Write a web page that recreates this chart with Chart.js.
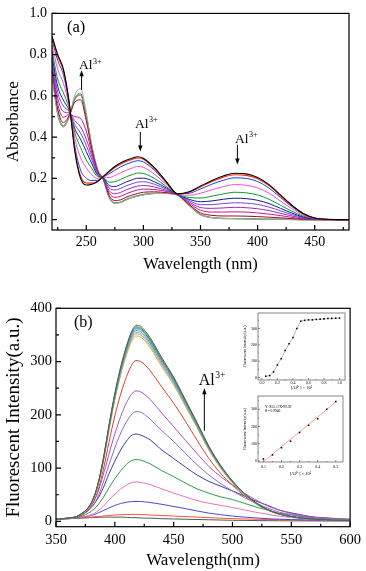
<!DOCTYPE html>
<html>
<head>
<meta charset="utf-8">
<script src="https://cdn.jsdelivr.net/npm/chart.js@4.4.0/dist/chart.umd.min.js"></script>
<style>
  html, body { margin: 0; padding: 0; background: #fff; }
  #wrap { position: relative; width: 366px; height: 571px; overflow: hidden; }
  canvas { position: absolute; }
</style>
</head>
<body>
<div id="wrap">
  <canvas id="chartA" width="366" height="285" style="left:0;top:0"></canvas>
  <canvas id="chartB" width="366" height="286" style="left:0;top:285px"></canvas>
  <canvas id="inset1" width="114" height="84" style="left:238px;top:309px"></canvas>
  <canvas id="inset2" width="114" height="86" style="left:238px;top:392px"></canvas>
</div>
<script>
// ---- panel (a): absorbance vs wavelength ----
const WAVE_A = [220,225,230,235,240,245,250,255,260,265,270,275,280,285,290,295,300,310,320,330,340,350,360,370,380,390,400,410,420,430,440,450,460,480];
const ABS_BLACK   = [.89,.80,.73,.57,.33,.20,.168,.172,.185,.21,.235,.258,.275,.288,.298,.305,.298,.25,.185,.125,.135,.163,.19,.212,.225,.222,.205,.17,.12,.07,.03,.008,.002,0];
const ABS_RED     = [.885,.792,.722,.568,.338,.212,.178,.177,.187,.21,.231,.253,.269,.282,.292,.299,.293,.246,.183,.125,.133,.159,.185,.206,.218,.215,.199,.165,.116,.068,.029,.008,.002,0];
const ABS_BLUE    = [.873,.772,.702,.563,.356,.241,.201,.19,.191,.208,.222,.24,.256,.269,.279,.286,.28,.238,.179,.125,.128,.149,.172,.191,.203,.2,.185,.153,.108,.063,.027,.007,.002,0];
const ABS_PINK    = [.847,.73,.661,.552,.394,.301,.251,.217,.199,.206,.204,.214,.227,.24,.25,.258,.254,.219,.171,.124,.119,.128,.145,.16,.17,.167,.154,.128,.09,.053,.022,.006,.002,0];
const ABS_GREEN   = [.819,.682,.614,.541,.42,.35,.29,.247,.208,.204,.182,.184,.195,.208,.218,.226,.224,.199,.161,.123,.108,.105,.114,.125,.133,.13,.12,.099,.07,.041,.017,.005,.001,0];
const ABS_NAVY    = [.796,.646,.579,.531,.44,.39,.33,.27,.215,.202,.166,.161,.17,.183,.193,.201,.201,.183,.154,.122,.099,.087,.091,.099,.104,.102,.094,.078,.055,.032,.013,.004,.001,0];
const ABS_VIOLET  = [.78,.618,.551,.524,.46,.42,.36,.288,.221,.2,.154,.144,.151,.164,.174,.182,.184,.171,.148,.122,.093,.073,.073,.078,.082,.08,.074,.061,.043,.025,.01,.003,.001,0];
const ABS_PURPLE  = [.762,.59,.524,.517,.48,.45,.39,.306,.226,.199,.141,.126,.132,.145,.155,.163,.166,.158,.142,.121,.086,.059,.055,.057,.06,.058,.053,.044,.031,.018,.007,.002,0,0];
const ABS_MAGENTA = [.745,.562,.496,.51,.50,.49,.43,.323,.232,.197,.129,.108,.113,.126,.136,.144,.148,.146,.137,.121,.08,.046,.037,.037,.038,.037,.033,.027,.02,.011,.004,.001,0,0];
const ABS_WINE    = [.73,.537,.471,.504,.57,.581,.48,.339,.237,.196,.117,.093,.096,.109,.119,.127,.133,.135,.131,.12,.074,.033,.021,.018,.018,.017,.015,.012,.009,.005,.002,0,0,0];
const ABS_GRAY    = [.71,.515,.45,.50,.605,.635,.52,.355,.24,.195,.11,.08,.083,.096,.106,.114,.12,.127,.127,.12,.069,.024,.01,.006,.005,.004,.003,.002,.002,.001,0,0,0,0];
const ABS_TEAL    = [.70,.51,.45,.50,.59,.612,.505,.35,.238,.194,.108,.08,.084,.097,.107,.115,.121,.127,.127,.119,.07,.025,.01,.006,.005,.004,.003,.002,.002,.001,0,0,0,0];
const ABS_OLIVE   = [.72,.52,.455,.50,.585,.605,.50,.35,.24,.195,.11,.082,.085,.098,.108,.116,.122,.128,.128,.12,.07,.025,.01,.006,.005,.004,.003,.002,.002,.001,0,0,0,0];
const A_X_TICKS = [250,300,350,400,450];
const A_Y_TICKS = [0,0.2,0.4,0.6,0.8,1.0];

// ---- panel (b): fluorescence vs wavelength ----
const WAVE_B = [350,360,370,380,385,390,395,400,405,410,414,418,422,426,430,440,450,460,470,480,490,500,510,520,530,540,550,560,570,580,590,600];
const FL_368 = [4,6,12,35,65,115,180,240,290,330,355,368,366,357,345,307,271,228,185,141,105,76,53,35,22,14,9,6,4,3,2,2];
const FL_365 = [4,5.8,12,34.7,64.6,114,179,239,288,328,353,365,363,354,342,304,269,227,184,140,104,75.6,52.6,34.7,21.9,13.9,9.1,5.8,4,2.9,1.8,1.8];
const FL_363 = [4,5.8,12,34.5,64.3,114,178,237,287,326,351,363,361,352,340,303,267,225,183,139,104,75,52.3,34.5,21.8,13.8,9.1,5.8,4,2.9,1.8,1.8];
const FL_361 = [4,5.8,11.9,34.3,64,113,177,236,285,324,349,361,359,350,338,301,266,224,182,139,103,74.7,52,34.3,21.7,13.7,9,5.8,4,2.9,1.8,1.8];
const FL_358 = [4,5.7,11.8,34,63.4,112,175,234,283,322,346,358,356,347,335,299,263,222,180,137.5,102.4,74,51.6,34,21.5,13.6,9,5.7,3.9,2.9,1.8,1.8];
const FL_355 = [4,5.7,11.7,33.7,62.8,111,174,232,280,319,343,355,353,344,333,296,261,220,179,136,101.5,73.5,51,33.7,21.3,13.5,8.9,5.7,3.9,2.8,1.8,1.8];
const FL_352 = [4,5.6,11.6,33.4,62.3,110,172.5,230,278,316.5,340,352,350,341,330,293.6,259,218.6,177.4,135,100.7,72.9,50.7,33.4,21.1,13.4,8.8,5.6,3.9,2.8,1.8,1.8];
const FL_348 = [4,5.6,11.5,33,61.6,109,170.5,227.6,275,313,336.5,348,346,337.6,326,290,256,216,175.4,133.6,99.5,72,50,33,21,13.2,8.7,5.6,3.8,2.8,1.7,1.7];
const FL_302 = [4.5,6,10,29,53,95,148,198,239,272,292,302,300,293,283,252,222,188,152,118,90,68,48,33,21,14,9,6,4,3,2,1.5];
const FL_245 = [4.5,6,11,31,51,86,126,164,197,223,238,245,243,237,229,203,178,152,127,103,84,68,53,40,29,21,15,10.5,7.5,6,4.5,3.7];
const FL_206 = [4.5,6,10,26,43,72,106,138,166,187,200,206,205,199,192,170,150,128,106,87,71,57,45,34,25,17,13,9,6,5,4,3];
const FL_164 = [4.5,6,10,26,41,62,89,113,134,151,161,164,162,158,153,134,118,102,87,75,66,57,48,38,30,21,16,11.5,8,6.5,5,4];
const FL_116 = [4.5,5.5,8,19,29,44,63,80,95,107,114,116,115,112,108,95,84,72,61,53,46,41,34,27,21,15,12,8,6,4.6,3.5,2.9];
const FL_74  = [4.5,5.5,7,12.5,18.5,28,40,51,61,68,72.5,74,73,71.5,69,61,53,46,39,34,30,26,21.5,17,13.3,9.6,7.4,5.2,3.7,3,2.2,1.9];
const FL_37  = [4.5,5,7,11,15,20,25,30,33.5,36,37,37.5,37.3,36.5,35.5,32,28,24,19.5,15.5,12.5,10,8,6.5,5,4,3.3,2.8,2.4,2,1.8,1.6];
const FL_13  = [4,5,6,8,9,10,11,12,12.5,13,13,13,12.8,12.5,12,11,10,9,8,7,6,5.2,4.5,4,3.5,3,2.6,2.3,2,1.8,1.6,1.5];
const FL_8   = [4,5,6,7,7.5,8,8,8,8,7.5,7,7,6.5,6,6,5,4.5,4,3.5,3,2.5,2,1.8,1.5,1.3,1.1,1,0.9,0.8,0.7,0.6,0.5];
const B_X_TICKS = [350,400,450,500,550,600];
const B_Y_TICKS = [0,100,200,300,400];

// ---- insets: titration curve and linear range ----
const CONC_ALL = [0.05,0.1,0.15,0.2,0.25,0.3,0.35,0.4,0.45,0.5,0.55,0.6,0.65,0.7,0.75,0.8,0.85,0.9,0.95,1.0];
const INT_ALL  = [8,12,35,77,115,165,207,245,300,345,350,353,353,356,357,359,361,362,363,364];
const CONC_FIT = [0.1,0.15,0.2,0.25,0.3,0.35,0.4,0.45,0.5];
const INT_FIT  = [12,35,77,115,165,207,245,300,345];
const FIT_X = [0.1,0.5];
const FIT_Y = [-4,342];
const IN1_X_TICKS = [0,0.2,0.4,0.6,0.8,1.0];
const IN1_Y_TICKS = [0,100,200,300];
const IN2_X_TICKS = [0.1,0.2,0.3,0.4,0.5];
const IN2_Y_TICKS = [0,100,200,300];

Chart.defaults.font.family = '"Liberation Serif", "Times New Roman", serif';
Chart.defaults.color = '#000';

function pts(xs, ys) {
  return xs.map((x, i) => ({ x: x, y: ys[i] }));
}

function minorsOf(majors, min, max) {
  const out = [];
  const step = majors[1] - majors[0];
  const cand = [majors[0] - step / 2];
  for (let i = 0; i < majors.length; i++) cand.push(majors[i] + step / 2);
  cand.forEach(v => { if (v >= min && v <= max) out.push(v); });
  return out;
}

// box frame with inward ticks, like Origin plots
const framePlugin = {
  id: 'frame',
  afterDatasetsDraw(chart, args, o) {
    const { ctx, chartArea: a, scales: { x, y } } = chart;
    ctx.save();
    ctx.strokeStyle = o.color;
    ctx.lineWidth = o.width;
    ctx.strokeRect(a.left, a.top, a.right - a.left, a.bottom - a.top);
    ctx.beginPath();
    const xm = x.ticks.map(t => t.value);
    const ym = y.ticks.map(t => t.value);
    const xs = o.minor ? minorsOf(xm, x.min, x.max) : [];
    const ys = o.minor ? minorsOf(ym, y.min, y.max) : [];
    const vx = (v, len) => { const p = x.getPixelForValue(v); ctx.moveTo(p, a.bottom); ctx.lineTo(p, a.bottom - len); };
    const vy = (v, len) => { const p = y.getPixelForValue(v); ctx.moveTo(a.left, p); ctx.lineTo(a.left + len, p); };
    xm.forEach(v => vx(v, o.major));
    xs.forEach(v => vx(v, o.minorLen));
    ym.forEach(v => vy(v, o.major));
    ys.forEach(v => vy(v, o.minorLen));
    ctx.stroke();
    ctx.restore();
  }
};

// panel labels, Al3+ notes and arrows
const notesPlugin = {
  id: 'notes',
  afterDatasetsDraw(chart, args, o) {
    const { ctx, chartArea: a, scales: { x, y } } = chart;
    ctx.save();
    ctx.fillStyle = '#000';
    ctx.strokeStyle = '#000';
    ctx.textBaseline = 'alphabetic';
    (o.labels || []).forEach(l => {
      ctx.font = l.size + 'px "Liberation Serif"';
      ctx.fillText(l.text, a.left + l.dx, a.top + l.dy);
    });
    (o.ions || []).forEach(n => {
      const px = x.getPixelForValue(n.x), py = y.getPixelForValue(n.y);
      ctx.font = n.size + 'px "Liberation Serif"';
      ctx.fillText('Al', px, py);
      const w = ctx.measureText('Al').width;
      ctx.font = (n.size * 0.6) + 'px "Liberation Serif"';
      ctx.fillText('3+', px + w + 0.5, py - n.size * 0.42);
    });
    (o.arrows || []).forEach(r => {
      const px = x.getPixelForValue(r.x);
      const p1 = y.getPixelForValue(r.from), p2 = y.getPixelForValue(r.to);
      const dir = p2 > p1 ? 1 : -1;
      ctx.lineWidth = 1;
      ctx.beginPath();
      ctx.moveTo(px, p1);
      ctx.lineTo(px, p2 - dir * 4);
      ctx.stroke();
      ctx.beginPath();
      ctx.moveTo(px, p2);
      ctx.lineTo(px - 2.2, p2 - dir * 6);
      ctx.lineTo(px + 2.2, p2 - dir * 6);
      ctx.closePath();
      ctx.fill();
    });
    ctx.restore();
  }
};

function axis(cfg) {
  return {
    type: 'linear',
    min: cfg.min,
    max: cfg.max,
    grid: { display: false, drawTicks: false },
    border: { display: false },
    afterBuildTicks: s => { s.ticks = cfg.ticks.map(v => ({ value: v })); },
    afterFit: s => { if (cfg.width) s.width = cfg.width; if (cfg.height) s.height = cfg.height; },
    ticks: {
      autoSkip: false,
      maxRotation: 0,
      padding: cfg.pad,
      color: '#000',
      font: { size: cfg.tickSize },
      callback: v => cfg.dec === undefined ? String(v) : Number(v).toFixed(cfg.dec)
    },
    title: {
      display: true,
      text: cfg.title,
      color: '#000',
      font: { size: cfg.titleSize },
      padding: cfg.titlePad
    }
  };
}

function baseOptions(extra) {
  return Object.assign({
    responsive: false,
    animation: false,
    devicePixelRatio: 1,
    events: [],
    elements: {
      point: { radius: 0 },
      line: { borderWidth: 1, cubicInterpolationMode: 'monotone' }
    }
  }, extra);
}

function line(xs, ys, color, w) {
  return { data: pts(xs, ys), borderColor: color, backgroundColor: color, borderWidth: w || 1, fill: false };
}

// ---- chart (a) ----
new Chart(document.getElementById('chartA'), {
  type: 'line',
  data: {
    datasets: [
      line(WAVE_A, ABS_BLACK, '#000000', 1.1),
      line(WAVE_A, ABS_RED, '#ff2a00', 1.1),
      line(WAVE_A, ABS_BLUE, '#1f3fe0'),
      line(WAVE_A, ABS_PINK, '#f050c8'),
      line(WAVE_A, ABS_GREEN, '#0a9a2a'),
      line(WAVE_A, ABS_NAVY, '#1a1a90'),
      line(WAVE_A, ABS_VIOLET, '#6a4ae0'),
      line(WAVE_A, ABS_PURPLE, '#9a2ab8'),
      line(WAVE_A, ABS_MAGENTA, '#c8109a'),
      line(WAVE_A, ABS_WINE, '#a01010'),
      line(WAVE_A, ABS_GRAY, '#a8a8a8'),
      line(WAVE_A, ABS_TEAL, '#2a9a8a'),
      line(WAVE_A, ABS_OLIVE, '#8a8a3a', 1.4)
    ]
  },
  options: baseOptions({
    layout: { padding: { top: 9, right: 17, left: 0, bottom: 0 } },
    plugins: {
      legend: { display: false },
      tooltip: { enabled: false },
      frame: { color: '#000', width: 1.2, major: 5, minorLen: 3, minor: true },
      notes: {
        labels: [{ text: '(a)', dx: 15, dy: 18.5, size: 16.5 }],
        ions: [
          { x: 243.6, y: 0.729, size: 13.5 },
          { x: 292.7, y: 0.444, size: 13.5 },
          { x: 380.2, y: 0.373, size: 13.5 }
        ],
        arrows: [
          { x: 245.9, from: 0.629, to: 0.724 },
          { x: 297.3, from: 0.425, to: 0.330 },
          { x: 382.3, from: 0.363, to: 0.268 }
        ]
      }
    },
    scales: {
      x: axis({ min: 220, max: 480, ticks: A_X_TICKS, height: 55, pad: 4, tickSize: 14,
                title: 'Wavelength (nm)', titleSize: 16.5, titlePad: { top: 0, bottom: 10 } }),
      y: axis({ min: -0.05, max: 1.0, ticks: A_Y_TICKS, width: 52, pad: 5, tickSize: 14, dec: 1,
                title: 'Absorbance', titleSize: 17, titlePad: { top: 3, bottom: 0 } })
    }
  }),
  plugins: [framePlugin, notesPlugin]
});

// ---- chart (b) ----
new Chart(document.getElementById('chartB'), {
  type: 'line',
  data: {
    datasets: [
      line(WAVE_B, FL_368, '#5a5a5a'),
      line(WAVE_B, FL_365, '#5e8a2e'),
      line(WAVE_B, FL_363, '#1a9a9a'),
      line(WAVE_B, FL_361, '#3ab8d8'),
      line(WAVE_B, FL_358, '#6a8ae0'),
      line(WAVE_B, FL_355, '#d888b8'),
      line(WAVE_B, FL_352, '#8ac060'),
      line(WAVE_B, FL_348, '#c4b83a'),
      line(WAVE_B, FL_302, '#e0402a'),
      line(WAVE_B, FL_245, '#b050c0'),
      line(WAVE_B, FL_206, '#8a6ad0'),
      line(WAVE_B, FL_164, '#3a3aa8'),
      line(WAVE_B, FL_116, '#2e9a48'),
      line(WAVE_B, FL_74, '#f070b0'),
      line(WAVE_B, FL_37, '#4848d8'),
      line(WAVE_B, FL_13, '#ff5533'),
      line(WAVE_B, FL_8, '#555555')
    ]
  },
  options: baseOptions({
    layout: { padding: { top: 23.3, right: 13.3, left: 0, bottom: 0 } },
    plugins: {
      legend: { display: false },
      tooltip: { enabled: false },
      frame: { color: '#000', width: 1.2, major: 5, minorLen: 3, minor: true },
      notes: {
        labels: [{ text: '(b)', dx: 18, dy: 18.7, size: 16 }],
        ions: [{ x: 471.3, y: 256, size: 16 }],
        arrows: [{ x: 476.1, from: 170, to: 250 }]
      }
    },
    scales: {
      x: axis({ min: 350, max: 600, ticks: B_X_TICKS, height: 44.3, pad: 5, tickSize: 14.5,
                title: 'Wavelength(nm)', titleSize: 17, titlePad: { top: 0, bottom: 0 } }),
      y: axis({ min: -10, max: 400, ticks: B_Y_TICKS, width: 56, pad: 4, tickSize: 14.5,
                title: 'Fluorescent Intensity(a.u.)', titleSize: 19, titlePad: { top: 3, bottom: 0 } })
    }
  }),
  plugins: [framePlugin, notesPlugin]
});

// ---- inset 1: intensity vs [Al3+] ----
new Chart(document.getElementById('inset1'), {
  type: 'line',
  data: {
    datasets: [{
      data: pts(CONC_ALL, INT_ALL),
      borderColor: '#8a8a8a', borderWidth: 0.6,
      pointRadius: 1.1, pointStyle: 'rect',
      pointBackgroundColor: '#000', pointBorderColor: '#000', pointBorderWidth: 0,
      cubicInterpolationMode: 'default', tension: 0
    }]
  },
  options: baseOptions({
    layout: { padding: { top: 4, right: 7, left: 0, bottom: 0 } },
    plugins: {
      legend: { display: false },
      tooltip: { enabled: false },
      frame: { color: '#555', width: 0.7, major: 2, minorLen: 1, minor: true },
      notes: {}
    },
    scales: {
      x: axis({ min: -0.05, max: 1.07, ticks: IN1_X_TICKS, height: 13, pad: 1, tickSize: 4, dec: 1,
                title: '[Al³⁺] × 10⁵', titleSize: 4.5, titlePad: { top: 0, bottom: 2 } }),
      y: axis({ min: -15, max: 395, ticks: IN1_Y_TICKS, width: 20, pad: 1, tickSize: 4,
                title: 'Fluorescent Intensity(a.u.)', titleSize: 4, titlePad: { top: 5, bottom: 0 } })
    }
  }),
  plugins: [framePlugin, notesPlugin]
});

// ---- inset 2: linear fit ----
new Chart(document.getElementById('inset2'), {
  type: 'line',
  data: {
    datasets: [
      {
        data: pts(CONC_FIT, INT_FIT),
        showLine: false,
        pointRadius: 1.1, pointStyle: 'rect',
        pointBackgroundColor: '#000', pointBorderColor: '#000', pointBorderWidth: 0
      },
      {
        data: pts(FIT_X, FIT_Y),
        borderColor: '#f08a80', borderWidth: 0.8, pointRadius: 0, tension: 0
      }
    ]
  },
  options: baseOptions({
    layout: { padding: { top: 4, right: 9, left: 0, bottom: 0 } },
    plugins: {
      legend: { display: false },
      tooltip: { enabled: false },
      frame: { color: '#555', width: 0.7, major: 2, minorLen: 1, minor: true },
      notes: {
        labels: [
          { text: 'Y=855.17X-90.39', dx: 7, dy: 12, size: 3.6 },
          { text: 'R²=0.9946', dx: 7, dy: 16, size: 3.6 }
        ]
      }
    },
    scales: {
      x: axis({ min: 0.07, max: 0.54, ticks: IN2_X_TICKS, height: 16, pad: 3, tickSize: 4, dec: 1,
                title: '[Al³⁺] × 10⁵', titleSize: 4.5, titlePad: { top: 0, bottom: 1 } }),
      y: axis({ min: -6, max: 377, ticks: IN2_Y_TICKS, width: 20, pad: 1, tickSize: 4,
                title: 'Fluorescent Intensity(a.u.)', titleSize: 4, titlePad: { top: 5, bottom: 0 } })
    }
  }),
  plugins: [framePlugin, notesPlugin]
});
</script>
</body>
</html>
